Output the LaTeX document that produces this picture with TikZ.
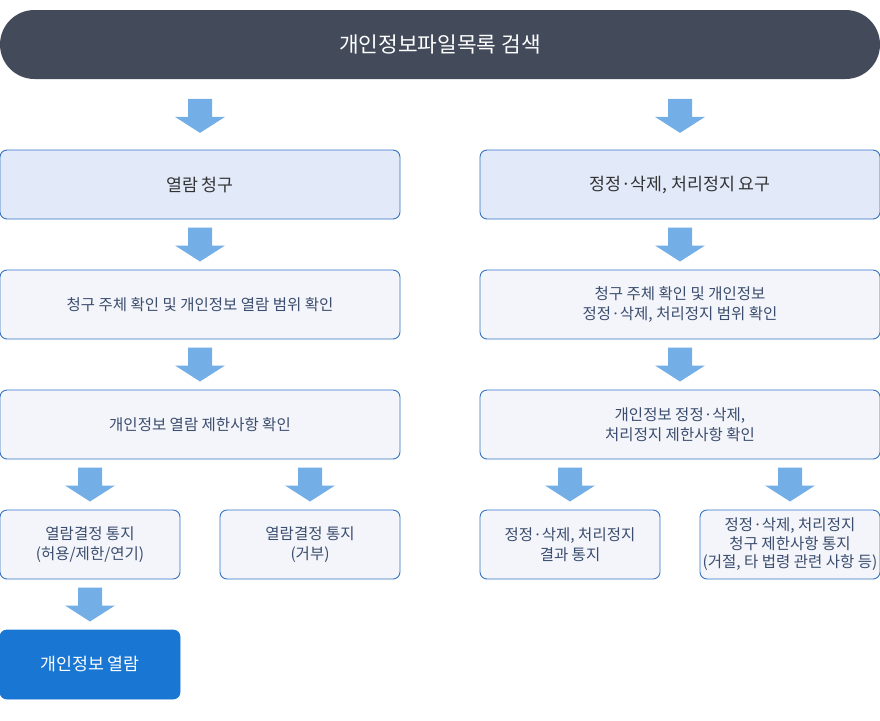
\documentclass[tikz,border=0pt]{standalone}
\usepackage{fontspec}
\setmainfont{Noto Sans CJK KR}
\usetikzlibrary{calc}
\definecolor{barc}{HTML}{434A5A}
\definecolor{hdfill}{HTML}{E2E9F9}
\definecolor{bordc}{HTML}{3573C3}
\definecolor{lfill}{HTML}{F3F5FA}
\definecolor{finc}{HTML}{1976D2}
\definecolor{arrc}{HTML}{74AEE7}
\definecolor{txtc}{HTML}{3B4D6E}
\definecolor{hdtxt}{HTML}{333333}
\tikzset{
  basebox/.style={draw=bordc, line width=0.9pt, rounded corners=7pt, align=center, inner sep=0pt, minimum height=69pt},
  hdbox/.style={basebox, fill=hdfill, text=hdtxt, minimum width=400pt, font=\fontsize{17.3}{21}\selectfont},
  midbox/.style={basebox, fill=lfill, text=txtc, minimum width=400pt, font=\fontsize{15.5}{20.5}\selectfont},
  smbox/.style={basebox, fill=lfill, text=txtc, minimum width=180pt, font=\fontsize{15.5}{20.5}\selectfont},
  finbox/.style={basebox, draw=finc, fill=finc, text=white, minimum width=180pt, font=\fontsize{17.3}{21}\selectfont},
  barrow/.pic={\fill[arrc] (-12,-17) -- (12,-17) -- (12,1) -- (25,1) -- (0,17) -- (-25,1) -- (-12,1) -- cycle;}
}
\begin{document}
\begin{tikzpicture}[x=1pt,y=-1pt]
\useasboundingbox (0,0) rectangle (880,720);
\node[fill=barc, rounded corners=34.5pt, minimum width=880pt, minimum height=69pt, inner sep=0pt, text=white, font=\fontsize{21.4}{26}\selectfont] (top) at (440,44.5) {개인정보파일목록 검색};
% left column
\node[hdbox] (l1) at (200,184.5) {열람 청구};
\node[midbox] (l2) at (200,304.5) {청구 주체 확인 및 개인정보 열람 범위 확인};
\node[midbox] (l3) at (200,424.5) {개인정보 열람 제한사항 확인};
\node[smbox] (l4a) at (90,544.5) {열람결정 통지\\(허용/제한/연기)};
\node[smbox] (l4b) at (310,544.5) {열람결정 통지\\(거부)};
\node[finbox] (l5) at (90,664.5) {개인정보 열람};
% right column
\node[hdbox] (r1) at (680,184.5) {정정·삭제, 처리정지 요구};
\node[midbox] (r2) at (680,304.5) {청구 주체 확인 및 개인정보\\정정·삭제, 처리정지 범위 확인};
\node[midbox] (r3) at (680,424.5) {개인정보 정정·삭제,\\처리정지 제한사항 확인};
\node[smbox] (r4a) at (570,544.5) {정정·삭제, 처리정지\\결과 통지};
\node[smbox, font=\fontsize{15.5}{18.5}\selectfont] (r4b) at (790,544.5) {정정·삭제, 처리정지\\청구 제한사항 통지\\(거절, 타 법령 관련 사항 등)};
% arrows
\pic at ($($(top.south -| l1)!0.5!(l1.north)$)+(0,1.5)$) {barrow};
\pic at ($($(top.south -| r1)!0.5!(r1.north)$)+(0,1.5)$) {barrow};
\pic at ($(l1.south)!0.5!(l2.north)$) {barrow};
\pic at ($(l2.south)!0.5!(l3.north)$) {barrow};
\pic at ($(l3.south -| l4a)!0.5!(l4a.north)$) {barrow};
\pic at ($(l3.south -| l4b)!0.5!(l4b.north)$) {barrow};
\pic at ($(l4a.south)!0.5!(l5.north)$) {barrow};
\pic at ($(r1.south)!0.5!(r2.north)$) {barrow};
\pic at ($(r2.south)!0.5!(r3.north)$) {barrow};
\pic at ($(r3.south -| r4a)!0.5!(r4a.north)$) {barrow};
\pic at ($(r3.south -| r4b)!0.5!(r4b.north)$) {barrow};
\end{tikzpicture}
\end{document}
